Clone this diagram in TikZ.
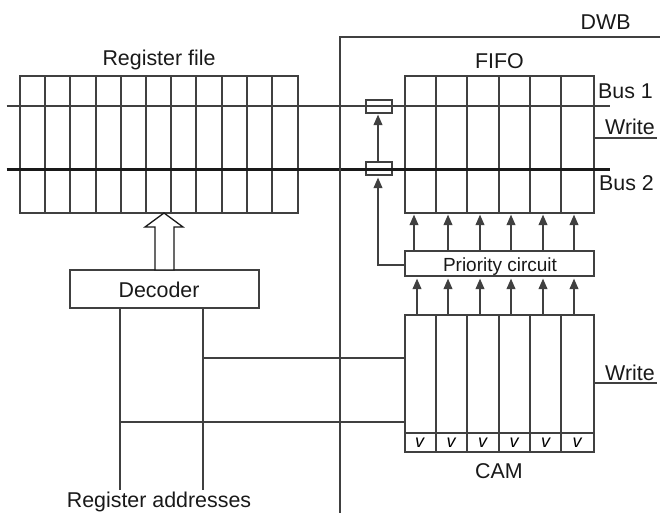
\documentclass[tikz,border=0pt]{standalone}
\usepackage{fontspec}
\setmainfont{Liberation Sans}
\usetikzlibrary{arrows.meta,calc}
\tikzset{
  x=1pt,y=-1pt,
  ln/.style={line width=2pt,draw=black!75},
  box/.style={ln,inner sep=0pt,outer sep=0pt,anchor=north west,fill=white},
  lab/.style={inner sep=0pt,anchor=base,font=\fontsize{21.4}{24}\selectfont,text=black!90},
  thickbus/.style={line width=3pt,draw=black!90},
  arr/.style={ln,-{Triangle[length=10.5pt,width=8.5pt]}},
  sw/.style={ln,inner sep=0pt,minimum width=26pt,minimum height=13pt,outer sep=0pt},
}
\begin{document}
\begin{tikzpicture}
\useasboundingbox (0,0) rectangle (660,512);
\begin{scope}[xshift=-0.5pt,yshift=0.5pt]
% boxes
\node[box,minimum width=278pt,minimum height=137pt] (reg) at (20.5,76.5) {};
\node[box,minimum width=189pt,minimum height=137pt] (fifo) at (405.5,76.5) {};
\node[box,minimum width=189pt,minimum height=137pt] (cam) at (405.5,315.5) {};
\node[box,minimum width=189pt,minimum height=25pt] (prio) at (405.5,251.5) {};
\node[box,minimum width=189pt,minimum height=38pt] (dec) at (70.5,270.5) {};
% cell dividers
\foreach \x in {45.5,70.5,96.5,121.5,146.5,171.5,196.5,222.5,247.5,272.5}
  \draw[ln] (\x,0 |- reg.north) -- (\x,0 |- reg.south);
\foreach \x in {436.5,467.5,499.5,530.5,561.5} {
  \draw[ln] (\x,0 |- fifo.north) -- (\x,0 |- fifo.south);
  \draw[ln] (\x,0 |- cam.north) -- (\x,0 |- cam.south);
}
\coordinate (vl) at (405.5,433.5);
\coordinate (vr) at (594.5,433.5);
\draw[ln] (vl) -- (vr);
% switches
\node[sw] (s1) at (379.5,107) {};
\node[sw] (s2) at (379.5,169) {};
% buses
\coordinate (b1l) at (7,106.5);
\coordinate (b1r) at (610,106.5);
\coordinate (b2l) at (7,169.5);
\coordinate (b2r) at (610,169.5);
\draw[ln] (b1l) -- (b1r);
\draw[thickbus] (b2l) -- (b2r);
% DWB
\coordinate (dwbr) at (662,37.5);
\coordinate (dwbc) at (340.5,37.5);
\coordinate (dwbb) at (340.5,514);
\draw[ln] (dwbr) -- (dwbc) -- (dwbb);
% priority to switches
\coordinate (t1) at (378.5,115);
\coordinate (t2) at (378.5,178);
\draw[arr] (s2.north -| t1) -- (t1);
\draw[arr] (prio.west |- 0,265.5) -| (t2);
% vertical arrows
\foreach \x in {414.5,448.5,480.5,511.5,543.5,574.5} {
  \draw[arr] (\x,0 |- prio.north) -- (\x,215);
}
\foreach \x in {417.5,448.5,480.5,511.5,543.5,574.5} {
  \draw[arr] (\x,0 |- cam.north) -- (\x,279);
}
% write lines
\coordinate (w1) at (657,138.5);
\coordinate (w2) at (657,383.5);
\draw[ln] (fifo.east |- w1) -- (w1);
\draw[ln] (cam.east |- w2) -- (w2);
% hollow arrow
\draw[line width=1.3pt,draw=black!90,fill=white] (155.5,270.5) -- (155.5,227.5) -- (145.5,227.5) -- (164.5,213.5) -- (183.5,227.5) -- (174.5,227.5) -- (174.5,270.5) -- cycle;
% decoder lines
\coordinate (a1) at (120.5,490);
\coordinate (a2) at (203.5,490);
\draw[ln] (dec.south -| a1) -- (a1);
\draw[ln] (dec.south -| a2) -- (a2);
\coordinate (j2) at (203.5,358.5);
\coordinate (j1) at (120.5,422.5);
\draw[ln] (j2) -- (j2 -| cam.west);
\draw[ln] (j1) -- (j1 -| cam.west);
\end{scope}
% labels
\foreach \i in {0,...,5}
  \node[inner sep=0pt,anchor=base,font=\fontsize{18}{20}\selectfont\itshape] (v\i) at (419.5+\i*31.5,447) {v};
\node[lab] (lreg) at (159,65) {Register file};
\node[lab] (lfifo) at (499.5,68) {FIFO};
\node[lab] (ldwb) at (605.7,29) {DWB};
\node[lab] (lb1) at (625.5,98.7) {Bus 1};
\node[lab] (lb2) at (626.5,190.7) {Bus 2};
\node[lab] (lw1) at (630,134) {Write};
\node[lab] (lw2) at (630,380) {Write};
\node[lab] (lcam) at (499,478) {CAM};
\node[lab] (ladr) at (159,507) {Register addresses};
\node[lab] (ldec) at (159,297) {Decoder};
\node[lab,font=\fontsize{19}{22}\selectfont] (lprio) at (500,271) {Priority circuit};
\end{tikzpicture}
\end{document}
